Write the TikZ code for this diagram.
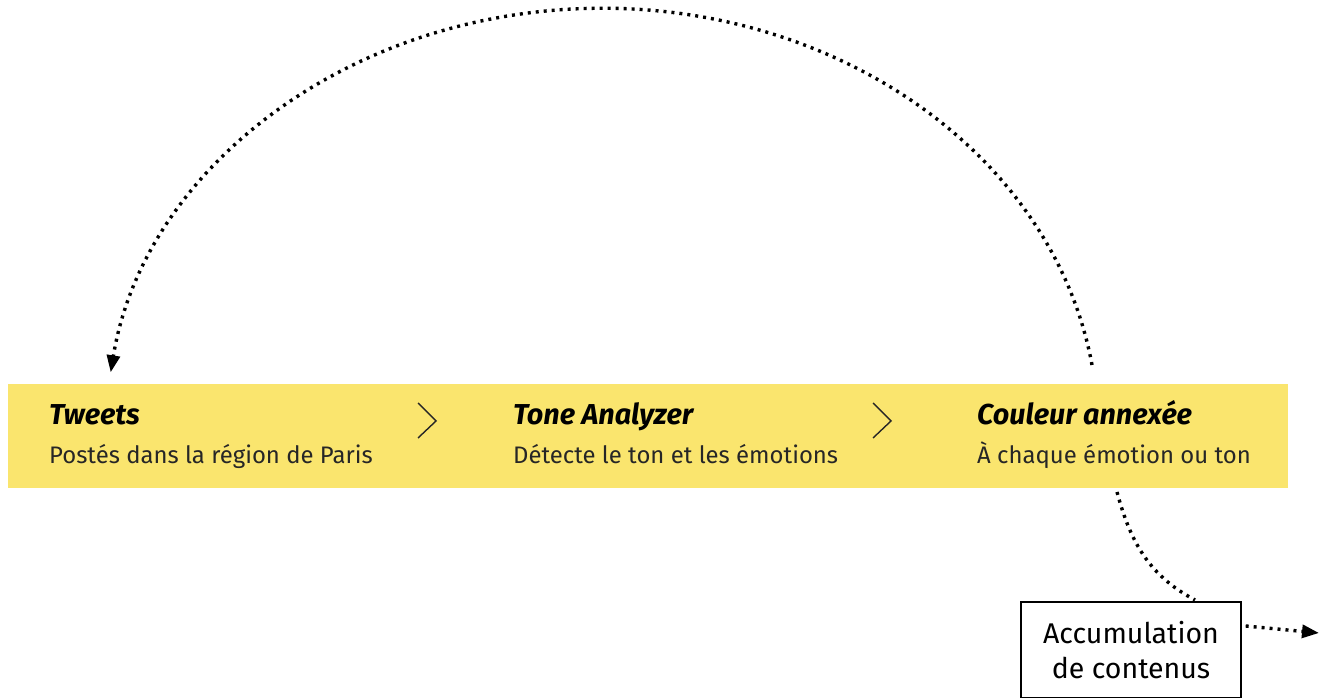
\documentclass[tikz,border=0pt]{standalone}
\usepackage{fontspec}
\setmainfont{Fira Sans}
\usetikzlibrary{arrows.meta}
\usetikzlibrary{positioning}
\usetikzlibrary{calc}
\definecolor{bandyellow}{RGB}{250,229,110}
\tikzset{>=latex}
\tikzset{
    link/.style = {line width=3.4pt, dash pattern=on 3pt off 5pt},
    vis/.style = {-{Triangle[length=17pt,width=13pt]}},
}
\newcommand\stepgap{464pt}
\newcommand\subgap{39pt}
\tikzset{
    band/.style={fill=bandyellow, minimum width=1280pt, minimum height=104pt, inner sep=0pt},
    steptitle/.style={anchor=base west, inner sep=0pt, font=\fontsize{28.8}{32}\selectfont\bfseries\itshape},
    stepsub/.style={anchor=base west, inner sep=0pt, text=black!85, font=\fontsize{23.9}{30}\selectfont},
    chevron/.style={line width=1.4pt, black!85},
    accbox/.style={draw, line width=1.3pt, minimum width=220pt, minimum height=96pt, align=center, font=\fontsize{28.5}{35}\selectfont}
}

\begin{document}
\begin{tikzpicture}[x=1pt,y=1pt]
    \useasboundingbox (0,0) rectangle (1319,698);
    \node[band] (band) at (648,262) {};
    \node[steptitle] (tweets) at (49,273) {Tweets};
    \node[steptitle] (tone) at ([xshift=\stepgap]tweets.base west) {Tone Analyzer};
    \node[steptitle] (couleur) at ([xshift=\stepgap]tone.base west) {Couleur annexée};
    \node[stepsub] (tweetssub) at ([yshift=-\subgap]tweets.base west) {Postés dans la région de Paris};
    \node[stepsub] (tonesub) at ([yshift=-\subgap]tone.base west) {Détecte le ton et les émotions};
    \node[stepsub] (couleursub) at ([yshift=-\subgap]couleur.base west) {À chaque émotion ou ton};
    \foreach \x in {418,873}
        \draw[chevron] (\x,295) -- (\x+18,277) -- (\x,260);
    \node[accbox] (acc) at (1131,48) {Accumulation\\de contenus};
    \coordinate (loopfrom) at (1092,333);
    \coordinate (accfrom) at (1117,206);
    \coordinate (accin) at (1195,98);
    \coordinate (outto) at (1319,65);
    \draw[link, vis] (loopfrom) arc[start angle=8.9, end angle=172.1, x radius=496pt, y radius=422pt];
    \draw[link] (accfrom) to[out=-75, in=152] (accin);
    \draw[link, vis] ([xshift=4pt,yshift=24pt]acc.east) -- (outto);
\end{tikzpicture}
\end{document}
